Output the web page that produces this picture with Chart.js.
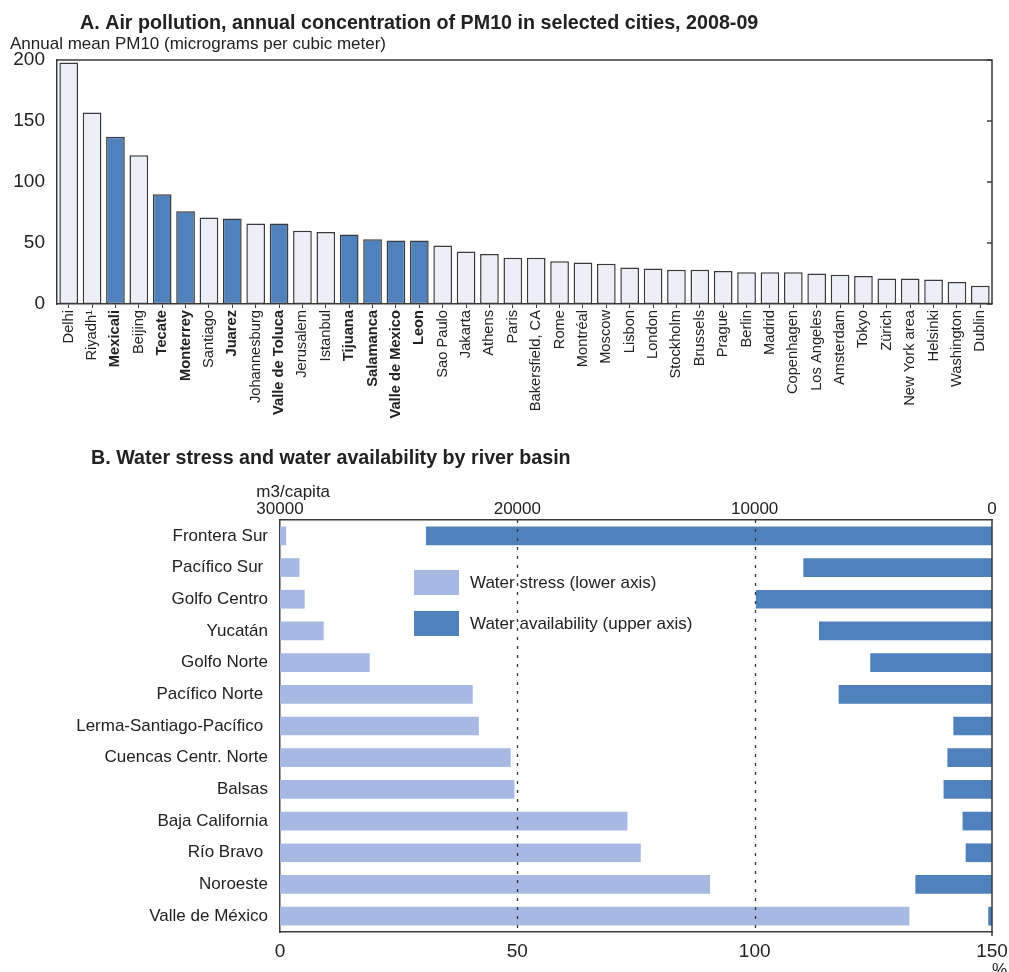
<!DOCTYPE html>
<html>
<head>
<meta charset="utf-8">
<title>PM10 and water stress</title>
<script src="https://cdn.jsdelivr.net/npm/chart.js@4.4.1/dist/chart.umd.min.js"></script>
<style>
  html, body { margin: 0; padding: 0; background: #fff; }
  #wrap { position: relative; width: 1009px; height: 972px; overflow: hidden; }
  .box { position: absolute; left: 0; width: 1009px; }
  #boxA { top: 0; height: 430px; }
  #boxB { top: 430px; height: 542px; }
</style>
</head>
<body>
<div id="wrap">
  <div class="box" id="boxA"><canvas id="pm10Chart"></canvas></div>
  <div class="box" id="boxB"><canvas id="waterChart"></canvas></div>
</div>
<script>
// Panel A: annual mean PM10 by city
var cities = ['Delhi', 'Riyadh\u00b9', 'Mexicali', 'Beijing', 'Tecate', 'Monterrey', 'Santiago', 'Juarez',
  'Johannesburg', 'Valle de Toluca', 'Jerusalem', 'Istanbul', 'Tijuana', 'Salamanca', 'Valle de Mexico',
  'Leon', 'Sao Paulo', 'Jakarta', 'Athens', 'Paris', 'Bakersfield, CA', 'Rome', 'Montréal', 'Moscow',
  'Lisbon', 'London', 'Stockholm', 'Brussels', 'Prague', 'Berlin', 'Madrid', 'Copenhagen', 'Los Angeles',
  'Amsterdam', 'Tokyo', 'Zürich', 'New York area', 'Helsinki', 'Washington', 'Dublin'];
var pm10 = [198, 157, 137, 122, 90, 76, 71, 70, 66, 66, 60, 59, 57, 53, 52, 52, 48, 43, 41, 38, 38,
  35, 34, 33, 30, 29, 28, 28, 27, 26, 26, 26, 25, 24, 23, 21, 21, 20, 18, 15];
var mexicanCities = ['Mexicali', 'Tecate', 'Monterrey', 'Juarez', 'Valle de Toluca', 'Tijuana',
  'Salamanca', 'Valle de Mexico', 'Leon'];
var pm10Ticks = [0, 50, 100, 150, 200];

// Panel B: water stress (%) and water availability (m3/capita) by river basin
var basins = ['Frontera Sur', 'Pacífico Sur ', 'Golfo Centro', 'Yucatán', 'Golfo Norte', 'Pacífico Norte ',
  'Lerma-Santiago-Pacífico ', 'Cuencas Centr. Norte', 'Balsas', 'Baja California', 'Río Bravo ',
  'Noroeste', 'Valle de México'];
var waterStress = [1.3, 4.1, 5.2, 9.2, 18.9, 40.6, 41.9, 48.6, 49.4, 73.2, 76.0, 90.6, 132.6];
var waterAvailability = [23850, 7950, 9950, 7290, 5130, 6460, 1630, 1880, 2040, 1240, 1110, 3230, 160];
var stressTicks = [0, 50, 100, 150];
var availabilityTicks = [0, 10000, 20000, 30000];

var titleA = 'A. Air pollution, annual concentration of PM10 in selected cities, 2008-09';
var subtitleA = 'Annual mean PM10 (micrograms per cubic meter)';
var titleB = 'B. Water stress and water availability by river basin';

var FONT = "'Liberation Sans', Arial, Helvetica, sans-serif";
var TEXT = '#222';
var AXIS = '#3a3a3a';
var BLUE = '#4f81bd';
var PALE = '#eceff8';
var LIGHTBLUE = '#a7b9e2';

Chart.defaults.font.family = FONT;
Chart.defaults.color = TEXT;

function fixedTicks(values) {
  return function (scale) {
    scale.ticks = values.map(function (v) { return { value: v }; });
  };
}

function plain(value) { return String(value); }

function text(ctx, str, x, y, font, align, baseline) {
  ctx.save();
  ctx.font = font;
  ctx.fillStyle = TEXT;
  ctx.textAlign = align || 'left';
  ctx.textBaseline = baseline || 'alphabetic';
  ctx.fillText(str, x, y);
  ctx.restore();
}

// frame, right-hand ticks and headings for panel A
var pm10Frame = {
  id: 'pm10Frame',
  afterDatasetsDraw: function (chart) {
    var ctx = chart.ctx, a = chart.chartArea, y = chart.scales.y;
    ctx.save();
    ctx.strokeStyle = AXIS;
    ctx.lineWidth = 1.5;
    ctx.beginPath();
    ctx.moveTo(a.left, a.top);
    ctx.lineTo(a.right, a.top);
    ctx.lineTo(a.right, a.bottom);
    ctx.stroke();
    y.ticks.forEach(function (t) {
      var py = y.getPixelForValue(t.value);
      ctx.beginPath();
      ctx.moveTo(a.right - 5, py);
      ctx.lineTo(a.right, py);
      ctx.stroke();
    });
    ctx.restore();
    text(ctx, titleA, 80, 28.5, 'bold 19.7px ' + FONT);
    text(ctx, subtitleA, 10, 49, '17px ' + FONT);
  }
};

new Chart(document.getElementById('pm10Chart'), {
  type: 'bar',
  data: {
    labels: cities,
    datasets: [{
      data: pm10,
      backgroundColor: cities.map(function (c) { return mexicanCities.indexOf(c) >= 0 ? BLUE : PALE; }),
      borderColor: AXIS,
      borderWidth: 1.5,
      borderSkipped: false,
      categoryPercentage: 1,
      barPercentage: 0.8
    }]
  },
  options: {
    responsive: true,
    maintainAspectRatio: false,
    animation: false,
    layout: { padding: { top: 60, right: 17, left: 0, bottom: 0 } },
    plugins: { legend: { display: false }, tooltip: { enabled: false } },
    scales: {
      x: {
        offset: true,
        grid: { display: true, drawOnChartArea: false, drawTicks: true, tickLength: 4, offset: false, color: AXIS, tickWidth: 1 },
        border: { display: true, color: AXIS, width: 1.5 },
        ticks: {
          autoSkip: false,
          minRotation: 90,
          maxRotation: 90,
          padding: 2,
          color: TEXT,
          font: function (c) {
            var bold = mexicanCities.indexOf(cities[c.index]) >= 0;
            return { size: 14.7, weight: bold ? 'bold' : 'normal', family: FONT };
          }
        },
        afterFit: function (scale) {
          scale.height = 126;
          scale.paddingLeft = 0;
          scale.paddingRight = 0;
        }
      },
      y: {
        min: 0,
        max: 200,
        grid: { display: false, drawTicks: false },
        border: { display: true, color: AXIS, width: 1.5 },
        ticks: { padding: 12, color: TEXT, font: { size: 19 } },
        afterBuildTicks: fixedTicks(pm10Ticks),
        afterFit: function (scale) { scale.width = 57; }
      }
    }
  },
  plugins: [pm10Frame]
});

// dashed guides, right edge, legend and labels for panel B
var waterDecor = {
  id: 'waterDecor',
  afterDatasetsDraw: function (chart) {
    var ctx = chart.ctx, a = chart.chartArea, x = chart.scales.x, x2 = chart.scales.x2;
    ctx.save();
    ctx.strokeStyle = '#333';
    ctx.lineWidth = 1.3;
    ctx.setLineDash([3, 6]);
    x.ticks.forEach(function (t) {
      if (t.value === x.min || t.value === x.max) return;
      var px = Math.round(x.getPixelForValue(t.value)) + 0.5;
      ctx.beginPath();
      ctx.moveTo(px, a.top);
      ctx.lineTo(px, a.bottom);
      ctx.stroke();
    });
    ctx.setLineDash([]);
    ctx.strokeStyle = AXIS;
    ctx.lineWidth = 1.5;
    ctx.beginPath();
    ctx.moveTo(a.right, a.top);
    ctx.lineTo(a.right, a.bottom + 4);
    ctx.stroke();
    ctx.restore();

    // legend
    chart.data.datasets.forEach(function (ds, i) {
      var bx = a.left + 134, by = a.top + 50 + i * 41;
      ctx.save();
      ctx.fillStyle = ds.backgroundColor;
      ctx.fillRect(bx, by, 45, 25);
      ctx.restore();
      text(ctx, ds.label, bx + 56, by + 13, '17px ' + FONT, 'left', 'middle');
    });

    text(ctx, titleB, 91, 33.5, 'bold 19.7px ' + FONT);
    ctx.save();
    ctx.font = '17px ' + FONT;
    var halfLabel = ctx.measureText(String(x2.max)).width / 2;
    ctx.restore();
    text(ctx, 'm3/capita', x2.getPixelForValue(x2.max) - halfLabel, 66.5, '17px ' + FONT);
    text(ctx, '%', x.getPixelForValue(x.max), 532, '17px ' + FONT, 'left', 'top');
  }
};

new Chart(document.getElementById('waterChart'), {
  type: 'bar',
  data: {
    labels: basins,
    datasets: [{
      label: 'Water stress (lower axis)',
      data: waterStress,
      xAxisID: 'x',
      backgroundColor: LIGHTBLUE,
      borderWidth: 0,
      grouped: false,
      categoryPercentage: 1,
      barPercentage: 0.59
    }, {
      label: 'Water availability (upper axis)',
      data: waterAvailability,
      xAxisID: 'x2',
      backgroundColor: BLUE,
      borderWidth: 0,
      grouped: false,
      categoryPercentage: 1,
      barPercentage: 0.59
    }]
  },
  options: {
    indexAxis: 'y',
    responsive: true,
    maintainAspectRatio: false,
    animation: false,
    layout: { padding: { top: 0, right: 17, left: 0, bottom: 0 } },
    plugins: { legend: { display: false }, tooltip: { enabled: false } },
    scales: {
      y: {
        offset: true,
        grid: { display: false, drawTicks: false },
        border: { display: true, color: AXIS, width: 1.5 },
        ticks: { autoSkip: false, padding: 12, color: TEXT, font: { size: 17 } },
        afterFit: function (scale) {
          scale.width = 280;
          scale.paddingTop = 0;
          scale.paddingBottom = 0;
        }
      },
      x: {
        position: 'bottom',
        min: 0,
        max: 150,
        grid: { display: false, drawTicks: false },
        border: { display: true, color: AXIS, width: 1.5 },
        ticks: { padding: 8, color: TEXT, font: { size: 19 }, callback: plain },
        afterBuildTicks: fixedTicks(stressTicks),
        afterFit: function (scale) {
          scale.height = 40;
          scale.paddingLeft = 0;
          scale.paddingRight = 0;
        }
      },
      x2: {
        position: 'top',
        reverse: true,
        min: 0,
        max: 30000,
        grid: { display: false, drawTicks: false },
        border: { display: true, color: AXIS, width: 1.5 },
        ticks: { padding: 0, color: TEXT, font: { size: 17 }, callback: plain },
        afterBuildTicks: fixedTicks(availabilityTicks),
        afterFit: function (scale) {
          scale.height = 90;
          scale.paddingLeft = 0;
          scale.paddingRight = 0;
        }
      }
    }
  },
  plugins: [waterDecor]
});
</script>
</body>
</html>
